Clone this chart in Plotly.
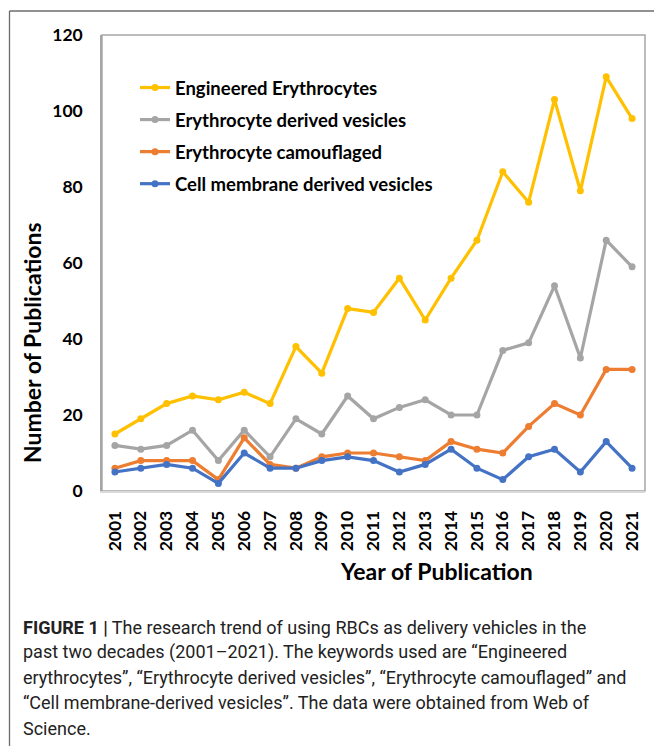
import plotly.graph_objects as go

years = [str(y) for y in range(2001, 2022)]
engineered = [15, 19, 23, 25, 24, 26, 23, 38, 31, 48, 47, 56, 45, 56, 66, 84, 76, 103, 79, 109, 98]
derived = [12, 11, 12, 16, 8, 16, 9, 19, 15, 25, 19, 22, 24, 20, 20, 37, 39, 54, 35, 66, 59]
camouflaged = [6, 8, 8, 8, 3, 14, 7, 6, 9, 10, 10, 9, 8, 13, 11, 10, 17, 23, 20, 32, 32]
membrane = [5, 6, 7, 6, 2, 10, 6, 6, 8, 9, 8, 5, 7, 11, 6, 3, 9, 11, 5, 13, 6]

series_names = ["Engineered Erythrocytes", "Erythrocyte derived vesicles",
                "Erythrocyte camouflaged", "Cell membrane derived vesicles"]
series_vals = [engineered, derived, camouflaged, membrane]
colors = ["#FFC000", "#A5A5A5", "#ED7D31", "#4472C4"]

x_title = "Year of Publication"
y_title = "Number of Publications"

caption_lines = [
    "<b>FIGURE 1 |</b> The research trend of using RBCs as delivery vehicles in the",
    "past two decades (2001–2021). The keywords used are “Engineered",
    "erythrocytes”, “Erythrocyte derived vesicles”, “Erythrocyte camouflaged” and",
    "“Cell membrane-derived vesicles”. The data were obtained from Web of",
    "Science.",
]

W, H = 654, 746
L, R, T, B = 102, 645, 35, 491
PW, PH = R - L, B - T


def px(x):
    return (x - L) / PW


def py(y):
    return (B - y) / PH


FONT = "Lato, 'Open Sans', sans-serif"

fig = go.Figure()
for i, (name, vals, c) in enumerate(zip(series_names, series_vals, colors)):
    fig.add_trace(go.Scatter(
        x=years, y=vals, name=name, mode="lines+markers",
        line=dict(color=c, width=3.2), marker=dict(color=c, size=7),
        legendgroup=f"g{i}",
    ))

annotations = []
for i, line in enumerate(caption_lines):
    annotations.append(dict(
        text=line, xref="paper", yref="paper", x=px(21), y=py(627 + i * 25.3),
        xanchor="left", yanchor="middle", showarrow=False,
        font=dict(family="Roboto, sans-serif", size=18, color="#222222"),
        align="left",
    ))

# axis titles (offset from plot centre as in the original)
annotations.append(dict(
    text=f"<b>{x_title}</b>", xref="paper", yref="paper", x=px(436), y=py(571),
    xanchor="center", yanchor="middle", showarrow=False,
    font=dict(family=FONT, size=23, color="black"),
))
annotations.append(dict(
    text=f"<b>{y_title}</b>", xref="paper", yref="paper", x=px(32), y=py(343),
    xanchor="center", yanchor="middle", showarrow=False, textangle=-90,
    font=dict(family=FONT, size=23, color="black"),
))

shapes = [
    # outer frame (top and left)
    dict(type="line", xref="paper", yref="paper", x0=px(9.5), x1=px(654), y0=py(11), y1=py(11),
         line=dict(color="#6b6b6b", width=1.3)),
    dict(type="line", xref="paper", yref="paper", x0=px(9.5), x1=px(9.5), y0=py(11), y1=py(746),
         line=dict(color="#6b6b6b", width=1.3)),
    # plot box
    dict(type="rect", xref="paper", yref="paper", x0=0, x1=1, y0=0, y1=1,
         line=dict(color="#a6a6a6", width=1.5), layer="below"),
]

fig.update_layout(
    width=W, height=H,
    margin=dict(l=L, r=W - R, t=T, b=H - B),
    paper_bgcolor="white", plot_bgcolor="white",
    font=dict(family=FONT, color="black"),
    showlegend=True,
    legend=dict(
        x=px(135), y=py(69), xanchor="left", yanchor="top",
        bgcolor="rgba(0,0,0,0)", borderwidth=0,
        font=dict(family=FONT, size=18.5, color="black", weight="bold"),
        tracegroupgap=5, traceorder="grouped",
    ),
    xaxis=dict(
        type="category", range=[-0.5, 20.5], showgrid=False, zeroline=False,
        showline=True, linecolor="#d9d9d9", linewidth=1.5,
        tickangle=-90, ticks="", ticklabelstandoff=11,
        tickfont=dict(family=FONT, size=17.5, color="black", weight="bold"),
    ),
    yaxis=dict(
        range=[0, 120], dtick=20, showgrid=False, zeroline=False,
        showline=True, linecolor="#a6a6a6", linewidth=1.5,
        ticks="", ticklabelstandoff=14,
        tickfont=dict(family=FONT, size=17.5, color="black", weight="bold"),
    ),
    annotations=annotations,
    shapes=shapes,
)

fig.write_html(
    "out.html",
    config={"displayModeBar": False},
    post_script="document.body.style.margin='0';document.body.style.padding='0';",
)
